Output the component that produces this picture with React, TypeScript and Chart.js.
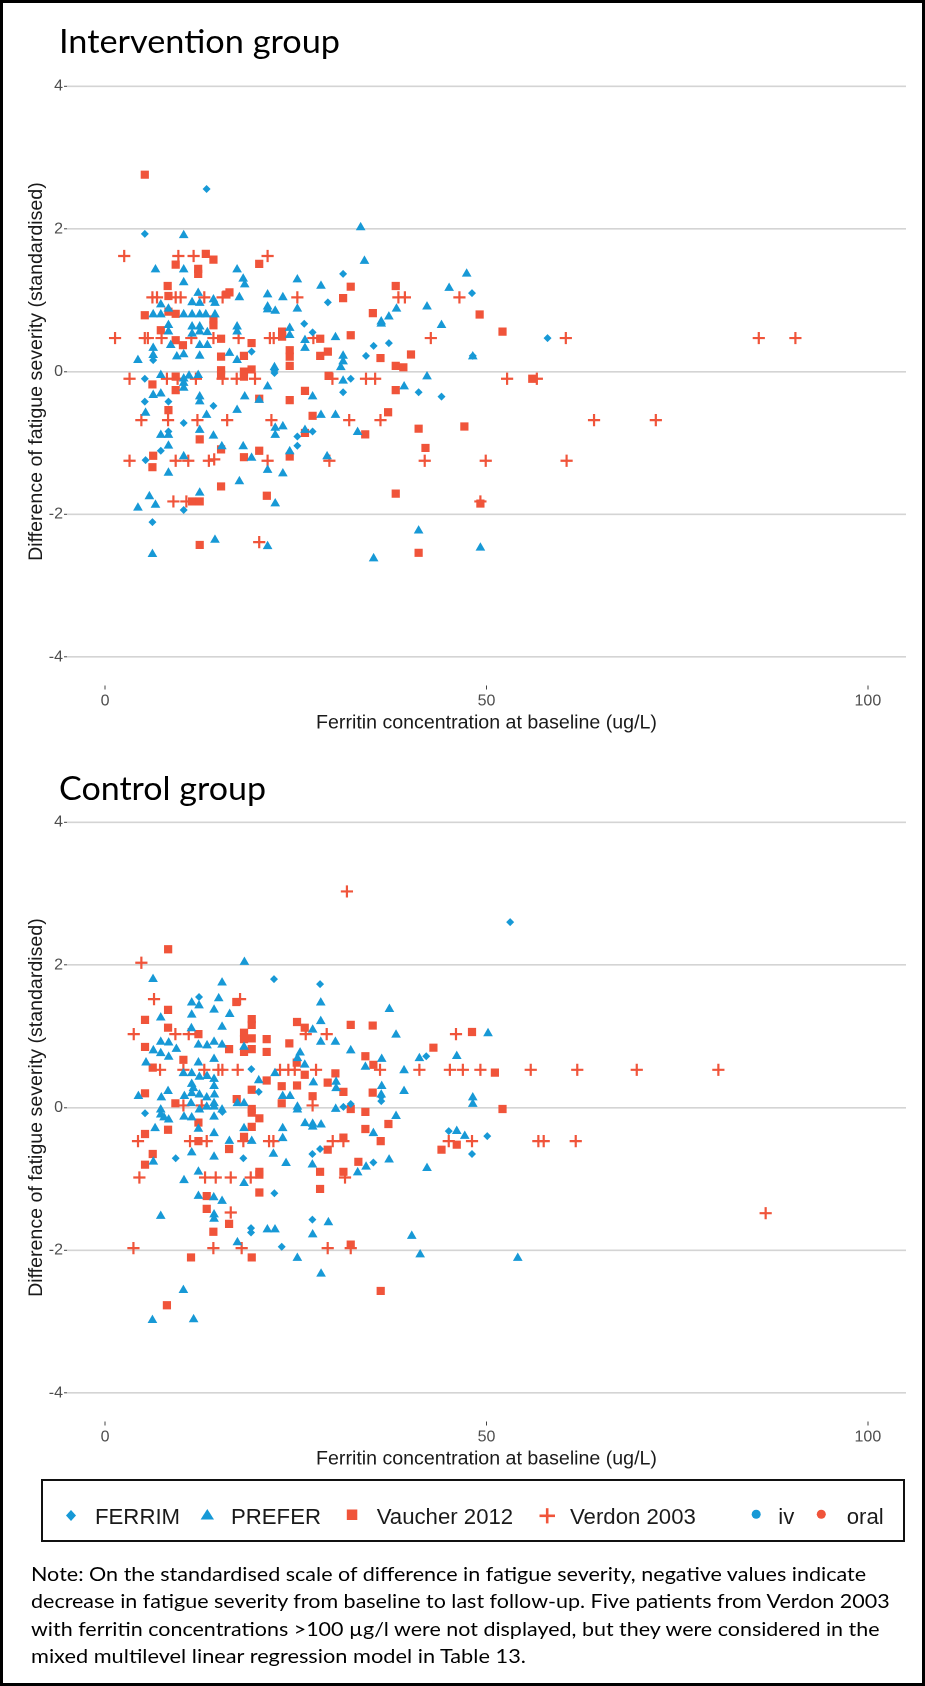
import React, { useEffect, useRef } from 'react';
import { Chart, registerables } from 'chart.js';

Chart.register(...registerables);

type Pt = [number, number];

// ---------------- Data: Intervention group ----------------
const intFERRIM: Pt[] = [
  [13.3, 2.56], [5.2, 1.93], [31.2, 1.37], [48.1, 1.10], [29.2, 0.97], [26.1, 0.67], [27.2, 0.55],
  [37.2, 0.40], [35.2, 0.36], [19.2, 0.28], [34.2, 0.22], [48.2, 0.22], [6.3, 0.16], [22.2, 0.01],
  [22.2, -0.02], [5.2, -0.10], [32.2, -0.10], [41.1, -0.29], [31.2, -0.29], [44.1, -0.35], [5.2, -0.42],
  [8.3, -0.42], [14.2, -0.48], [10.3, -0.72], [27.2, -0.84], [25.2, -0.91], [8.3, -0.84], [7.3, -1.11],
  [25.2, -1.04], [5.3, -1.24], [10.3, -1.94], [6.2, -2.11], [58.0, 0.47],
];
const intPREFER: Pt[] = [
  [10.3, 1.91], [33.5, 2.02], [34.0, 1.55], [6.6, 1.43], [10.3, 1.43], [17.3, 1.43], [18.1, 1.30],
  [18.3, 1.22], [10.3, 1.25], [25.2, 1.29], [47.4, 1.37], [28.3, 1.20], [45.1, 1.17], [12.2, 1.10],
  [17.6, 1.04], [21.3, 1.08], [23.3, 1.04], [7.3, 0.94], [8.3, 0.88], [11.4, 0.97], [12.4, 0.96],
  [14.2, 1.01], [14.4, 0.96], [21.3, 0.91], [21.3, 0.87], [22.3, 0.85], [25.2, 0.88], [42.2, 0.91],
  [38.2, 0.88], [6.3, 0.80], [7.3, 0.80], [10.3, 0.80], [11.4, 0.80], [12.4, 0.80], [13.2, 0.80],
  [14.4, 0.80], [37.2, 0.77], [36.2, 0.70], [36.2, 0.67], [8.3, 0.65], [8.3, 0.56], [11.4, 0.63],
  [12.4, 0.63], [17.3, 0.63], [17.3, 0.56], [24.2, 0.61], [44.1, 0.65], [12.4, 0.56], [11.4, 0.53],
  [13.4, 0.55], [24.2, 0.51], [30.2, 0.48], [26.2, 0.44], [26.2, 0.33], [13.4, 0.37], [12.4, 0.37],
  [6.3, 0.33], [8.6, 0.37], [16.3, 0.26], [31.2, 0.22], [31.2, 0.14], [48.2, 0.21], [4.3, 0.16],
  [6.3, 0.23], [9.4, 0.21], [10.3, 0.24], [12.4, 0.22], [17.3, 0.16], [22.2, 0.06], [30.9, 0.06],
  [7.3, -0.05], [10.3, -0.10], [11.0, -0.06], [12.2, -0.05], [31.2, -0.13], [42.2, -0.07], [10.3, -0.16],
  [10.3, -0.23], [21.3, -0.21], [39.2, -0.21], [18.3, -0.35], [20.2, -0.40], [27.2, -0.35], [6.3, -0.33],
  [7.3, -0.31], [12.4, -0.35], [12.4, -0.42], [17.3, -0.54], [5.3, -0.58], [13.3, -0.61], [28.3, -0.61],
  [30.2, -0.61], [22.3, -0.79], [23.3, -0.77], [22.3, -0.89], [26.2, -0.82], [12.4, -0.82], [7.3, -0.89],
  [8.3, -0.89], [14.2, -0.90], [33.1, -0.85], [8.3, -1.04], [15.3, -1.05], [18.1, -1.05], [24.2, -1.12],
  [10.3, -1.19], [19.2, -1.21], [29.1, -1.19], [21.3, -1.38], [23.3, -1.43], [8.3, -1.42], [17.6, -1.54],
  [12.4, -1.70], [22.3, -1.85], [4.3, -1.91], [5.8, -1.75], [6.6, -1.87], [41.1, -2.23], [14.4, -2.36],
  [21.3, -2.45], [49.2, -2.47], [6.2, -2.56], [35.2, -2.62],
];
const intVaucher: Pt[] = [
  [5.2, 2.76], [13.2, 1.65], [14.2, 1.57], [20.2, 1.51], [9.25, 1.50], [12.2, 1.44], [12.2, 1.37],
  [8.2, 1.20], [32.2, 1.19], [38.1, 1.20], [16.3, 1.11], [15.9, 1.08], [8.3, 1.06], [31.2, 1.03],
  [5.2, 0.79], [8.3, 0.84], [9.25, 0.81], [14.2, 0.73], [14.2, 0.65], [35.1, 0.82], [49.1, 0.80],
  [7.3, 0.58], [23.2, 0.56], [23.2, 0.49], [9.25, 0.44], [10.2, 0.37], [15.2, 0.46], [19.2, 0.40],
  [28.2, 0.46], [32.2, 0.51], [52.1, 0.56], [15.2, 0.21], [18.2, 0.22], [24.2, 0.30], [24.2, 0.21],
  [28.2, 0.22], [29.2, 0.28], [40.1, 0.24], [36.1, 0.19], [15.2, 0.02], [15.2, -0.04], [18.2, 0.00],
  [19.2, 0.03], [18.2, -0.07], [38.1, 0.08], [39.1, 0.06], [24.2, 0.08], [9.25, -0.07], [29.3, -0.06],
  [56.0, -0.10], [6.2, -0.18], [9.25, -0.26], [26.2, -0.27], [38.1, -0.26], [20.2, -0.38], [24.2, -0.40],
  [8.3, -0.54], [37.1, -0.57], [27.2, -0.62], [47.1, -0.77], [26.2, -0.86], [34.1, -0.88], [41.1, -0.80],
  [12.4, -0.95], [15.2, -1.09], [42.0, -1.07], [20.2, -1.11], [6.3, -1.18], [6.2, -1.34], [18.2, -1.20],
  [24.2, -1.19], [15.2, -1.61], [38.1, -1.71], [21.2, -1.74], [11.4, -1.82], [12.4, -1.82], [49.2, -1.85],
  [12.4, -2.43], [41.1, -2.54],
];
const intVerdon: Pt[] = [
  [2.5, 1.62], [9.6, 1.62], [11.6, 1.62], [21.3, 1.62],
  [6.2, 1.04], [6.8, 1.04], [9.25, 1.04], [9.9, 1.04], [13.0, 1.04], [15.4, 1.04], [25.2, 1.04],
  [38.45, 1.04], [39.3, 1.04], [46.45, 1.04],
  [1.3, 0.47], [5.2, 0.47], [5.6, 0.47], [7.4, 0.47], [11.3, 0.47], [14.2, 0.47], [17.5, 0.47],
  [21.6, 0.47], [22.1, 0.47], [27.3, 0.47], [42.7, 0.47], [60.4, 0.47], [85.7, 0.47], [90.5, 0.47],
  [3.2, -0.10], [8.1, -0.10], [9.5, -0.10], [11.9, -0.10], [15.4, -0.10], [17.25, -0.10], [19.65, -0.10],
  [29.8, -0.10], [34.2, -0.10], [35.4, -0.10], [52.7, -0.10], [56.6, -0.10],
  [4.75, -0.68], [8.25, -0.68], [12.1, -0.68], [16.0, -0.68], [21.8, -0.68], [32.0, -0.68], [36.1, -0.68],
  [64.1, -0.68], [72.2, -0.68],
  [3.2, -1.25], [9.25, -1.25], [10.9, -1.25], [13.6, -1.25], [14.3, -1.23], [21.3, -1.25], [29.4, -1.25],
  [41.9, -1.25], [49.9, -1.25], [60.5, -1.25],
  [8.95, -1.82], [10.65, -1.82], [49.2, -1.82],
  [20.2, -2.39],
];

// ---------------- Data: Control group ----------------
const ctlFERRIM: Pt[] = [
  [53.1, 2.60], [22.14, 1.80], [28.18, 1.73], [12.31, 1.55], [42.1, 0.72], [19.17, 0.54], [20.14, 0.22],
  [36.2, 0.15], [36.2, 0.09], [15.37, -0.06], [31.24, 0.01], [32.2, 0.05], [5.23, -0.08], [45.05, -0.33],
  [50.1, -0.40], [48.1, -0.65], [9.25, -0.71], [18.12, -0.71], [27.17, -0.65], [28.18, -0.58],
  [35.17, -0.77], [22.19, -1.20], [19.13, -1.69], [19.13, -1.75], [27.17, -1.57], [23.15, -1.95],
];
const ctlPREFER: Pt[] = [
  [18.26, 2.04], [6.28, 1.80], [15.33, 1.75], [11.35, 1.47], [12.31, 1.43], [14.89, 1.53], [28.27, 1.47],
  [14.28, 1.37], [16.33, 1.31], [37.27, 1.38], [7.29, 1.26], [11.35, 1.30], [28.27, 1.21], [27.21, 1.09],
  [11.31, 1.11], [15.33, 1.13], [38.14, 1.02], [50.2, 1.04], [28.27, 0.92], [30.19, 0.92], [7.29, 0.92],
  [8.33, 0.91], [6.32, 0.80], [7.29, 0.76], [8.33, 0.71], [9.34, 0.82], [12.23, 0.88], [13.36, 0.87],
  [14.28, 0.92], [15.33, 0.88], [18.21, 0.85], [25.56, 0.77], [32.2, 0.80], [41.2, 0.69], [46.1, 0.72],
  [34.12, 0.57], [36.26, 0.68], [25.21, 0.69], [26.17, 0.60], [12.23, 0.63], [14.28, 0.68], [5.36, 0.63],
  [39.19, 0.52], [22.27, 0.48], [10.26, 0.48], [11.35, 0.48], [13.36, 0.44], [14.28, 0.40], [14.28, 0.30],
  [11.35, 0.33], [11.57, 0.27], [12.36, 0.43], [20.14, 0.38], [27.3, 0.35], [30.28, 0.36], [30.28, 0.27],
  [36.26, 0.30], [39.19, 0.23], [48.2, 0.14], [48.2, 0.05], [36.2, 0.18], [4.36, 0.16], [8.25, 0.23],
  [7.37, 0.14], [10.39, 0.16], [11.35, 0.20], [12.36, 0.18], [13.32, 0.14], [14.33, 0.18], [17.34, 0.06],
  [18.21, 0.06], [23.28, 0.16], [24.24, 0.16], [11.26, 0.06], [14.28, 0.06], [14.28, 0.01], [25.21, 0.01],
  [25.21, -0.03], [30.23, -0.02], [38.14, -0.12], [7.29, -0.03], [7.29, -0.10], [8.33, -0.17], [7.72, -0.14],
  [10.34, -0.13], [11.35, -0.14], [12.36, -0.03], [13.32, 0.01], [15.33, -0.03], [14.28, -0.13], [6.55, -0.29],
  [12.23, -0.30], [18.21, -0.29], [23.28, -0.29], [26.21, -0.22], [27.21, -0.23], [28.31, -0.24], [27.21, -0.27],
  [35.17, -0.36], [46.1, -0.33], [47.15, -0.40], [14.28, -0.36], [16.29, -0.47], [19.22, -0.47], [23.28, -0.43],
  [6.32, -0.76], [11.35, -0.63], [14.28, -0.69], [22.06, -0.65], [23.72, -0.78], [34.21, -0.83], [37.23, -0.73],
  [33.11, -0.91], [42.2, -0.85], [27.17, -0.80], [12.23, -0.90], [10.34, -1.02], [18.21, -1.06], [12.23, -1.24],
  [14.24, -1.26], [15.33, -1.31], [7.29, -1.52], [14.28, -1.50], [14.28, -1.56], [21.27, -1.71], [22.27, -1.71],
  [29.27, -1.61], [27.21, -1.78], [17.34, -1.89], [40.2, -1.80], [41.3, -2.06], [54.1, -2.11], [25.2, -2.11],
  [28.31, -2.33], [10.26, -2.56], [6.2, -2.98], [11.6, -2.97],
];
const ctlVaucher: Pt[] = [
  [8.26, 2.22], [17.2, 1.48], [8.25, 1.37], [5.23, 1.23], [19.22, 1.24], [19.22, 1.16], [25.16, 1.20],
  [26.17, 1.12], [32.2, 1.16], [35.08, 1.15], [8.25, 1.12], [12.23, 1.03], [18.21, 1.05], [19.22, 0.97],
  [18.21, 0.96], [21.18, 0.96], [48.1, 1.06], [24.15, 0.90], [5.23, 0.85], [16.25, 0.82], [18.21, 0.78],
  [19.22, 0.82], [21.18, 0.78], [43.04, 0.84], [34.12, 0.72], [35.17, 0.60], [25.12, 0.63], [10.26, 0.67],
  [6.24, 0.56], [51.1, 0.49], [26.17, 0.46], [30.19, 0.48], [31.24, 0.22], [21.18, 0.38], [19.22, 0.25],
  [23.15, 0.30], [25.16, 0.31], [29.18, 0.35], [35.08, 0.21], [27.2, 0.16], [5.23, 0.20], [17.25, 0.12],
  [23.15, 0.06], [9.21, 0.06], [19.22, -0.02], [19.22, -0.07], [32.2, -0.02], [34.12, -0.06], [52.1, -0.02],
  [20.22, -0.15], [8.25, -0.31], [12.23, -0.21], [19.22, -0.27], [37.14, -0.23], [34.12, -0.30], [46.1, -0.52],
  [44.1, -0.59], [18.21, -0.41], [5.23, -0.37], [12.23, -0.47], [16.25, -0.58], [29.18, -0.59], [31.24, -0.42],
  [36.13, -0.47], [6.24, -0.65], [5.23, -0.80], [33.2, -0.76], [28.18, -0.90], [31.24, -0.90], [20.22, -0.90],
  [20.22, -0.94], [28.18, -1.14], [20.22, -1.19], [13.32, -1.24], [13.32, -1.42], [16.25, -1.63], [14.19, -1.74],
  [32.2, -1.92], [11.26, -2.10], [19.22, -2.10], [36.13, -2.57], [8.1, -2.77],
];
const ctlVerdon: Pt[] = [
  [31.7, 3.03], [4.75, 2.03], [6.41, 1.52], [17.69, 1.52],
  [3.75, 1.03], [9.21, 1.03], [10.96, 1.03], [26.3, 1.03], [29.05, 1.03], [46.0, 1.03],
  [7.2, 0.53], [10.26, 0.53], [13.0, 0.53], [14.85, 0.53], [15.37, 0.53], [17.38, 0.53], [22.93, 0.53],
  [24.02, 0.53], [24.86, 0.53], [27.65, 0.53], [36.04, 0.53], [41.2, 0.53], [45.2, 0.53], [46.9, 0.53],
  [49.2, 0.53], [55.8, 0.53], [61.9, 0.53], [69.7, 0.53], [80.4, 0.53],
  [10.26, 0.03], [12.66, 0.03], [27.2, 0.03],
  [4.31, -0.47], [11.13, -0.47], [13.32, -0.47], [18.12, -0.47], [21.49, -0.47], [22.06, -0.47],
  [29.84, -0.47], [31.24, -0.47], [45.05, -0.47], [48.1, -0.47], [56.8, -0.47], [57.5, -0.47], [61.7, -0.47],
  [4.49, -0.98], [13.1, -0.98], [14.5, -0.98], [16.47, -0.98], [19.09, -0.98], [31.45, -0.98],
  [16.47, -1.47], [86.6, -1.48],
  [3.71, -1.97], [14.19, -1.97], [17.9, -1.97], [29.18, -1.97], [32.2, -1.97],
];

const STUDY_NAMES = ['FERRIM', 'PREFER', 'Vaucher 2012', 'Verdon 2003'];
const ROUTE_NAMES = ['iv', 'oral'];
const X_TICKS = [0, 50, 100];
const Y_TICKS = [-4, -2, 0, 2, 4];
const X_TITLE = 'Ferritin concentration at baseline (ug/L)';
const Y_TITLE = 'Difference of fatigue severity (standardised)';
const PANEL_TITLES = ['Intervention group', 'Control group'];
const NOTE_LINES = [
  'Note: On the standardised scale of difference in fatigue severity, negative values indicate',
  'decrease in fatigue severity from baseline to last follow-up. Five patients from Verdon 2003',
  'with ferritin concentrations >100 \u00b5g/l were not displayed, but they were considered in the',
  'mixed multilevel linear regression model in Table 13.',
];

// ---------------- Styles / layout ----------------
const BLUE = '#1799d6';
const RED = '#f0543a';
const AXIS_FONT = '"Liberation Sans", Arial, sans-serif';
const WORD_FONT = 'Lato, "Open Sans", sans-serif';

const PAGE_W = 925;
const PAGE_H = 1686;
const PANEL_H = 745;
const CHART_TOP = 57.7;
const CHART_BOTTOM = 685.5;
const Y_AXIS_W = 67;
const CHART_RIGHT = 906;
const PANEL_TOPS = [0, 736];

const MARKERS = [
  { pointStyle: 'rectRot', radius: 4.0, color: BLUE, borderWidth: 0 },
  { pointStyle: 'triangle', radius: 5.6, color: BLUE, borderWidth: 0 },
  { pointStyle: 'rect', radius: 5.8, color: RED, borderWidth: 0 },
  { pointStyle: 'cross', radius: 6.1, color: RED, borderWidth: 2.2 },
];

function ScatterPanel({ top, series }: { top: number; series: Pt[][] }) {
  const ref = useRef<HTMLCanvasElement | null>(null);
  useEffect(() => {
    const canvas = ref.current;
    if (!canvas) return;
    const chart = new Chart(canvas, {
      type: 'scatter',
      data: {
        datasets: series.map((pts, i) => ({
          label: STUDY_NAMES[i],
          data: pts.map(([x, y]) => ({ x, y })),
          pointStyle: MARKERS[i].pointStyle as any,
          pointRadius: MARKERS[i].radius,
          pointHoverRadius: MARKERS[i].radius,
          pointBackgroundColor: MARKERS[i].color,
          pointBorderColor: MARKERS[i].color,
          pointBorderWidth: MARKERS[i].borderWidth,
          backgroundColor: MARKERS[i].color,
          borderColor: MARKERS[i].color,
          showLine: false,
        })),
      },
      options: {
        animation: false,
        responsive: false,
        devicePixelRatio: 2,
        events: [],
        layout: { padding: { top: CHART_TOP, right: PAGE_W - CHART_RIGHT, left: 0, bottom: 0 } },
        plugins: { legend: { display: false }, tooltip: { enabled: false }, title: { display: false } },
        scales: {
          x: {
            type: 'linear',
            min: -5,
            max: 105,
            afterBuildTicks: (s: any) => { s.ticks = X_TICKS.map((v) => ({ value: v })); },
            afterFit: (s: any) => { s.height = PANEL_H - CHART_BOTTOM; },
            grid: { display: true, drawOnChartArea: false, drawTicks: true, tickLength: 4, tickColor: '#444', tickWidth: 1 },
            border: { display: false },
            ticks: { color: '#4d4d4d', font: { family: AXIS_FONT, size: 16 }, padding: 2, maxRotation: 0, autoSkip: false },
            title: { display: true, text: X_TITLE, color: '#1a1a1a', font: { family: AXIS_FONT, size: 19.6 }, padding: { top: 0, bottom: 10 } },
          },
          y: {
            type: 'linear',
            min: -4.4,
            max: 4.4,
            afterBuildTicks: (s: any) => { s.ticks = Y_TICKS.map((v) => ({ value: v })); },
            afterFit: (s: any) => { s.width = Y_AXIS_W; },
            grid: { color: '#d4d4d4', lineWidth: 1.6, drawTicks: true, tickLength: 3, tickColor: '#444', tickWidth: 1 },
            border: { display: false },
            ticks: { color: '#4d4d4d', font: { family: AXIS_FONT, size: 16 }, padding: 1 },
            title: { display: true, text: Y_TITLE, color: '#1a1a1a', font: { family: AXIS_FONT, size: 19.6 }, padding: { top: 25, bottom: 0 } },
          },
        },
      } as any,
    });
    return () => chart.destroy();
  }, [series]);
  return (
    <canvas
      ref={ref}
      width={PAGE_W}
      height={PANEL_H}
      style={{ position: 'absolute', left: 0, top, width: PAGE_W, height: PANEL_H }}
    />
  );
}

let measureCtx: CanvasRenderingContext2D | null = null;
function measure(text: string, font: string) {
  if (!measureCtx) measureCtx = document.createElement('canvas').getContext('2d');
  const ctx = measureCtx as CanvasRenderingContext2D;
  ctx.font = font;
  const m = ctx.measureText(text);
  return { w: m.width, asc: (m as any).fontBoundingBoxAscent || 0, desc: (m as any).fontBoundingBoxDescent || 0 };
}

function PlacedText(props: { text: string; x: number; baseline: number; size: number; family: string; width?: number; color?: string }) {
  const { text, x, baseline, size, family, width, color = '#000' } = props;
  const font = `${size}px ${family}`;
  const m = measure(text, font);
  const asc = m.asc || size * 0.95;
  const desc = m.desc || size * 0.25;
  const sx = width && m.w > 0 ? width / m.w : 1;
  return (
    <div
      style={{
        position: 'absolute',
        left: x,
        top: baseline - asc,
        fontFamily: family,
        fontSize: size,
        lineHeight: `${asc + desc}px`,
        height: asc + desc,
        whiteSpace: 'pre',
        color,
        transform: `scaleX(${sx})`,
        transformOrigin: '0 0',
      }}
    >
      {text}
    </div>
  );
}

function Legend() {
  const textX = [95, 231, 376.7, 570, 778.3, 846.7];
  const labels = [...STUDY_NAMES, ...ROUTE_NAMES];
  return (
    <>
      <div
        style={{
          position: 'absolute',
          left: 41,
          top: 1479,
          width: 864,
          height: 63,
          border: '2px solid #111',
          boxSizing: 'border-box',
        }}
      />
      <svg
        width={PAGE_W}
        height={PAGE_H}
        style={{ position: 'absolute', left: 0, top: 0, pointerEvents: 'none' }}
      >
        <polygon points="71,1510 76,1515.5 71,1521 66,1515.5" fill={BLUE} />
        <polygon points="207.3,1509 214,1519.5 200.6,1519.5" fill={BLUE} />
        <rect x={346.8} y={1509.5} width={10.5} height={10.5} fill={RED} />
        <line x1={539.5} y1={1515.8} x2={555} y2={1515.8} stroke={RED} strokeWidth={2.6} />
        <line x1={547.2} y1={1508.2} x2={547.2} y2={1523.4} stroke={RED} strokeWidth={2.6} />
        <circle cx={756.2} cy={1514.3} r={4.5} fill={BLUE} />
        <circle cx={821.3} cy={1514.3} r={4.5} fill={RED} />
      </svg>
      {labels.map((t, i) => (
        <PlacedText key={t} text={t} x={textX[i]} baseline={1524} size={22.2} family={AXIS_FONT} color="#1a1a1a" />
      ))}
    </>
  );
}

export default function App() {
  useEffect(() => {
    document.body.style.margin = '0';
  }, []);
  const noteWidths = [836, 860, 850, 496];
  const noteBaselines = [1580.7, 1608.2, 1635.7, 1663.2];
  return (
    <div
      style={{
        position: 'absolute',
        left: 0,
        top: 0,
        width: PAGE_W,
        height: PAGE_H,
        background: '#fff',
        overflow: 'hidden',
      }}
    >
      <ScatterPanel top={PANEL_TOPS[0]} series={[intFERRIM, intPREFER, intVaucher, intVerdon]} />
      <ScatterPanel top={PANEL_TOPS[1]} series={[ctlFERRIM, ctlPREFER, ctlVaucher, ctlVerdon]} />
      <PlacedText text={PANEL_TITLES[0]} x={59.3} baseline={53.3} size={33} family={WORD_FONT} width={281} />
      <PlacedText text={PANEL_TITLES[1]} x={59.3} baseline={800} size={33} family={WORD_FONT} width={207} />
      <Legend />
      {NOTE_LINES.map((t, i) => (
        <PlacedText key={i} text={t} x={31} baseline={noteBaselines[i]} size={20} family={WORD_FONT} width={noteWidths[i]} />
      ))}
      <div
        style={{
          position: 'absolute',
          left: 0,
          top: 0,
          width: PAGE_W,
          height: PAGE_H,
          border: '3px solid #000',
          boxSizing: 'border-box',
          pointerEvents: 'none',
        }}
      />
    </div>
  );
}
